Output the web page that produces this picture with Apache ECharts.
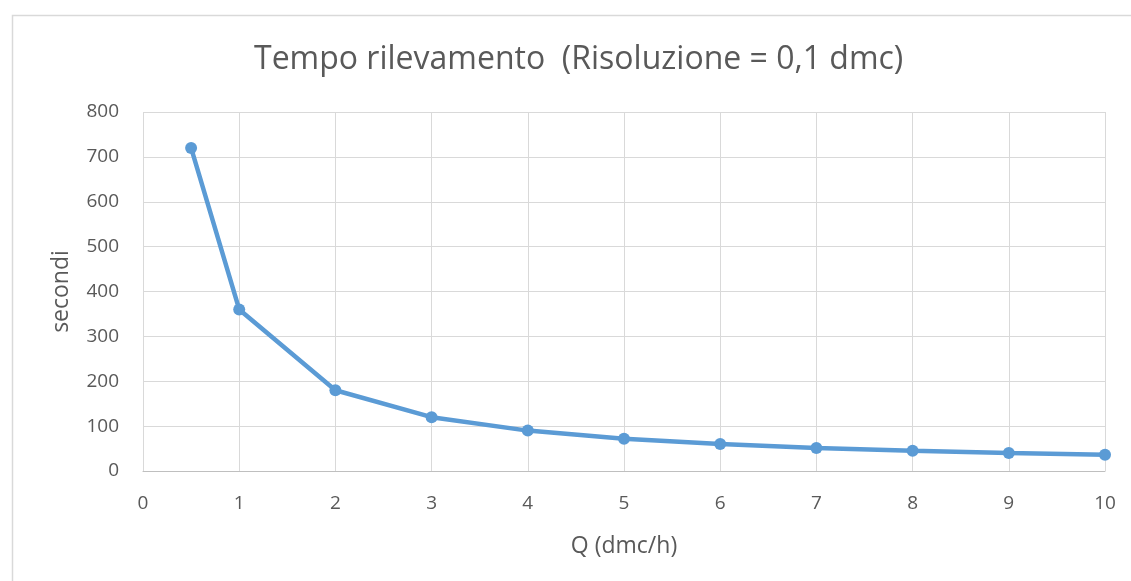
<!DOCTYPE html>
<html><head><meta charset="utf-8">
<script src="https://cdn.jsdelivr.net/npm/echarts@6/dist/echarts.min.js"></script>
<style>html,body{margin:0;padding:0;background:#fff}#c{width:1131px;height:581px}</style>
</head><body><div id="c"></div>
<script>
const qValues = [0.5, 1, 2, 3, 4, 5, 6, 7, 8, 9, 10];
const seconds = [720, 360, 180, 120, 90, 72, 60, 51, 45, 40, 36];
const titleText = 'Tempo rilevamento  (Risoluzione = 0,1 dmc)';
const xName = 'Q (dmc/h)';
const yName = 'secondi';

const chart = echarts.init(document.getElementById('c'), null, {renderer: 'canvas'});
const font = '"Open Sans", "Noto Sans", sans-serif';
chart.setOption({
  animation: false,
  backgroundColor: '#fff',
  graphic: [{
    type: 'rect', left: 10, top: 13, silent: true,
    shape: {width: 1140, height: 600},
    style: {fill: 'none', stroke: '#d9d9d9', lineWidth: 1.5}
  }],
  title: {
    text: titleText, left: 249, top: 39,
    textStyle: {fontFamily: font, fontSize: 32, fontWeight: 'normal', color: '#595959'}
  },
  grid: {left: 143, top: 112, right: 26, bottom: 110, containLabel: false},
  xAxis: {
    type: 'value', min: 0, max: 10, interval: 1,
    name: xName, nameLocation: 'middle', nameGap: 64,
    nameTextStyle: {fontFamily: font, fontSize: 23, color: '#595959'},
    axisLine: {show: true, lineStyle: {color: '#bfbfbf', width: 1}},
    axisTick: {show: false},
    axisLabel: {fontFamily: font, fontSize: 19, color: '#595959', margin: 23},
    splitLine: {show: true, lineStyle: {color: '#d9d9d9', width: 1}}
  },
  yAxis: {
    type: 'value', min: 0, max: 800, interval: 100,
    name: yName, nameLocation: 'middle', nameGap: 70,
    nameTextStyle: {fontFamily: font, fontSize: 23, color: '#595959'},
    axisLine: {show: false}, axisTick: {show: false},
    axisLabel: {fontFamily: font, fontSize: 19, color: '#595959', margin: 24},
    splitLine: {show: true, lineStyle: {color: '#d9d9d9', width: 1}}
  },
  series: [{
    type: 'line',
    data: qValues.map((q, i) => [q, seconds[i]]),
    symbol: 'circle', symbolSize: 12,
    lineStyle: {color: '#5b9bd5', width: 4.5},
    itemStyle: {color: '#5b9bd5'}
  }]
});
</script></body></html>
